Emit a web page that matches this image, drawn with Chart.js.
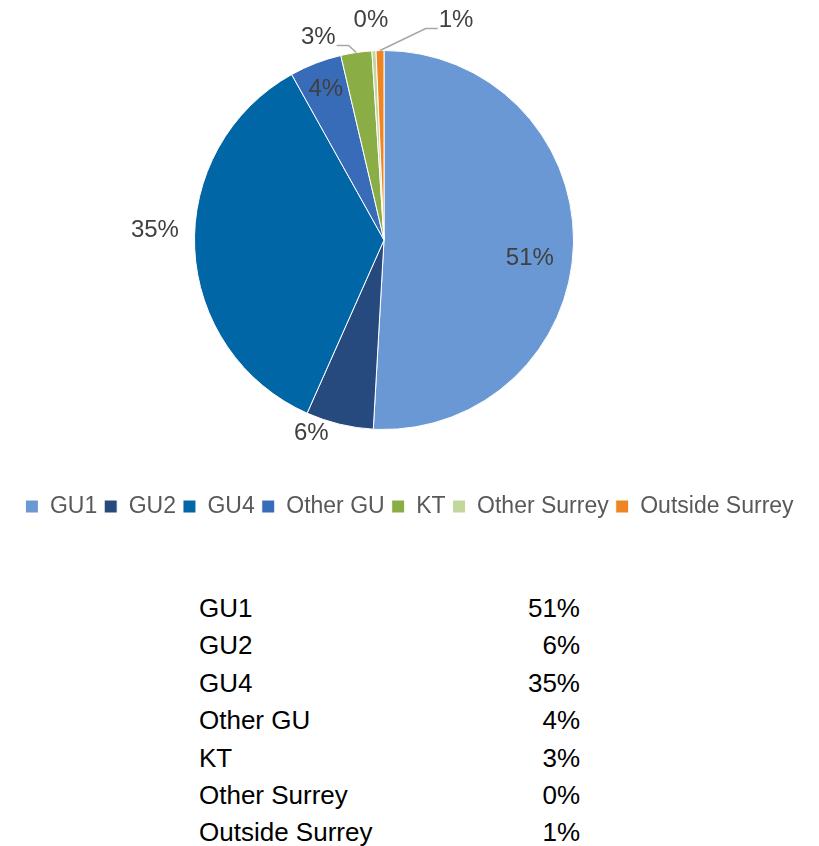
<!DOCTYPE html>
<html>
<head>
<meta charset="utf-8">
<script src="https://cdn.jsdelivr.net/npm/chart.js@4.4.0/dist/chart.umd.min.js"></script>
<style>
  html, body { margin: 0; padding: 0; background: #fff; }
  body { width: 819px; height: 846px; position: relative; overflow: hidden; font-family: "Liberation Sans", Arial, sans-serif; }
  #chartBox { position: absolute; left: 0; top: 0; width: 819px; height: 530px; }
  #table { position: absolute; left: 199px; top: 590px; width: 381px; font-size: 26px; color: #000; }
  #table .row { display: flex; justify-content: space-between; height: 37.4px; line-height: 37.4px; }
</style>
</head>
<body>
<div id="chartBox"><canvas id="pie"></canvas></div>
<div id="table"></div>
<script>
// Data
const categories = ['GU1', 'GU2', 'GU4', 'Other GU', 'KT', 'Other Surrey', 'Outside Surrey'];
const shares = [50.9, 5.75, 35.25, 4.44, 2.64, 0.35, 0.67];

// Styles
const colours = ['#6A98D4', '#264A7E', '#0066A6', '#386CB8', '#8AAD45', '#C3D69B', '#EE8522'];
const FONT = '"Liberation Sans", Arial, sans-serif';

// where each percentage label sits (radial factor or callout offset from the slice edge)
const labelPlace = [
    { mode: 'in', r: 0.77, dx: 0, dy: 14 },
    { mode: 'in', r: 1.05, dx: -26, dy: 0 },
    { mode: 'in', r: 1.21, dx: 0, dy: -20 },
    { mode: 'in', r: 0.85, dx: 0, dy: 0 },
    { mode: 'out', dx: -38, dy: -15, leader: 'left' },
    { mode: 'out', dx: -3, dy: -30 },
    { mode: 'out', dx: 76, dy: -30, leader: 'right' }
];

const total = shares.reduce((a, b) => a + b, 0);
const pct = v => Math.round(v / total * 100) + '%';

// pie sits left of the canvas centre, like the original
const placePie = {
    id: 'placePie',
    afterLayout(chart) {
        const a = chart.chartArea;
        a.left = 194; a.right = 574; a.top = 50; a.bottom = 430;
        a.width = a.right - a.left; a.height = a.bottom - a.top;
    }
};

const sliceLabels = {
    id: 'sliceLabels',
    afterDatasetsDraw(chart) {
        const ctx = chart.ctx;
        const meta = chart.getDatasetMeta(0);
        ctx.save();
        ctx.font = '24px ' + FONT;
        ctx.textAlign = 'center';
        ctx.textBaseline = 'middle';
        meta.data.forEach((arc, i) => {
            const p = labelPlace[i];
            const mid = (arc.startAngle + arc.endAngle) / 2;
            const R = arc.outerRadius;
            const cos = Math.cos(mid), sin = Math.sin(mid);
            const text = pct(shares[i]);
            let x, y;
            if (p.mode === 'in') {
                x = arc.x + cos * R * p.r + p.dx;
                y = arc.y + sin * R * p.r + p.dy;
            } else {
                const ex = arc.x + cos * R, ey = arc.y + sin * R;
                x = ex + p.dx;
                y = ey + p.dy;
                if (p.leader) {
                    const w = ctx.measureText(text).width;
                    const dir = p.leader === 'left' ? 1 : -1;
                    const endX = x + dir * (w / 2 + 1), endY = y + 8;
                    ctx.strokeStyle = '#A6A6A6';
                    ctx.lineWidth = 1.5;
                    ctx.beginPath();
                    ctx.moveTo(endX, endY);
                    ctx.lineTo(endX + dir * 12, endY);
                    ctx.lineTo(ex, ey);
                    ctx.stroke();
                }
            }
            ctx.fillStyle = '#404040';
            ctx.fillText(text, x, y);
        });
        ctx.restore();
    }
};

new Chart(document.getElementById('pie'), {
    type: 'pie',
    data: {
        labels: categories,
        datasets: [{
            data: shares,
            backgroundColor: colours,
            borderColor: '#ffffff',
            borderWidth: 1
        }]
    },
    options: {
        responsive: true,
        maintainAspectRatio: false,
        animation: false,
        layout: { padding: { bottom: 2 } },
        plugins: {
            legend: {
                position: 'bottom',
                labels: {
                    boxWidth: 13,
                    boxHeight: 13,
                    padding: 7,
                    color: '#595959',
                    font: { size: 23, family: FONT }
                }
            },
            tooltip: { enabled: false }
        }
    },
    plugins: [placePie, sliceLabels]
});

// Table under the chart
const table = document.getElementById('table');
table.innerHTML = categories.map((c, i) =>
    `<div class="row"><span>${c}</span><span>${pct(shares[i])}</span></div>`
).join('');
</script>
</body>
</html>
